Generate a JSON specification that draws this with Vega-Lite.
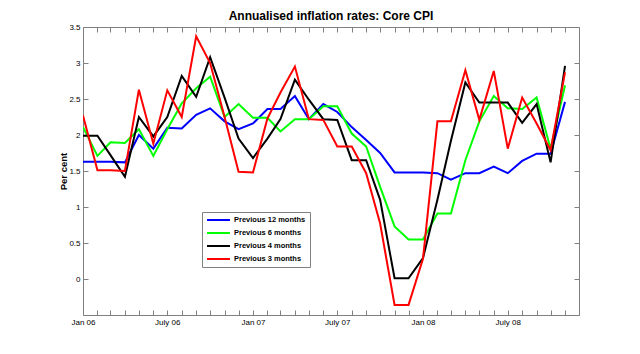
{
  "$schema": "https://vega.github.io/schema/vega-lite/v6.json",
  "width": 496,
  "height": 288,
  "autosize": {"type": "none"},
  "padding": {"left": 83, "top": 27, "right": 61, "bottom": 39},
  "background": "white",
  "config": {
    "font": "Liberation Sans",
    "view": {"stroke": "#808080", "strokeWidth": 1},
    "axis": {"grid": false, "domain": false, "tickColor": "#808080", "labelColor": "black", "titleColor": "black"}
  },
  "title": {"text": "Annualised inflation rates: Core CPI", "fontSize": 12, "fontWeight": "bold", "font": "Liberation Sans", "anchor": "middle", "offset": 0, "color": "black"},
  "data": {
    "values": [
      {"date": "2006-01-01", "Previous 12 months": 1.63, "Previous 6 months": 2.11, "Previous 4 months": 1.99, "Previous 3 months": 2.27},
      {"date": "2006-02-01", "Previous 12 months": 1.63, "Previous 6 months": 1.71, "Previous 4 months": 1.99, "Previous 3 months": 1.51},
      {"date": "2006-03-01", "Previous 12 months": 1.63, "Previous 6 months": 1.90, "Previous 4 months": 1.72, "Previous 3 months": 1.51},
      {"date": "2006-04-01", "Previous 12 months": 1.62, "Previous 6 months": 1.89, "Previous 4 months": 1.42, "Previous 3 months": 1.50},
      {"date": "2006-05-01", "Previous 12 months": 2.00, "Previous 6 months": 2.08, "Previous 4 months": 2.25, "Previous 3 months": 2.63},
      {"date": "2006-06-01", "Previous 12 months": 1.81, "Previous 6 months": 1.71, "Previous 4 months": 1.98, "Previous 3 months": 1.88},
      {"date": "2006-07-01", "Previous 12 months": 2.10, "Previous 6 months": 2.08, "Previous 4 months": 2.25, "Previous 3 months": 2.62},
      {"date": "2006-08-01", "Previous 12 months": 2.09, "Previous 6 months": 2.44, "Previous 4 months": 2.82, "Previous 3 months": 2.25},
      {"date": "2006-09-01", "Previous 12 months": 2.28, "Previous 6 months": 2.65, "Previous 4 months": 2.53, "Previous 3 months": 3.37},
      {"date": "2006-10-01", "Previous 12 months": 2.37, "Previous 6 months": 2.81, "Previous 4 months": 3.08, "Previous 3 months": 3.00},
      {"date": "2006-11-01", "Previous 12 months": 2.19, "Previous 6 months": 2.25, "Previous 4 months": 2.52, "Previous 3 months": 2.25},
      {"date": "2006-12-01", "Previous 12 months": 2.08, "Previous 6 months": 2.43, "Previous 4 months": 1.95, "Previous 3 months": 1.49},
      {"date": "2007-01-01", "Previous 12 months": 2.16, "Previous 6 months": 2.24, "Previous 4 months": 1.68, "Previous 3 months": 1.48},
      {"date": "2007-02-01", "Previous 12 months": 2.36, "Previous 6 months": 2.24, "Previous 4 months": 1.95, "Previous 3 months": 2.23},
      {"date": "2007-03-01", "Previous 12 months": 2.36, "Previous 6 months": 2.05, "Previous 4 months": 2.22, "Previous 3 months": 2.59},
      {"date": "2007-04-01", "Previous 12 months": 2.54, "Previous 6 months": 2.22, "Previous 4 months": 2.77, "Previous 3 months": 2.95},
      {"date": "2007-05-01", "Previous 12 months": 2.22, "Previous 6 months": 2.22, "Previous 4 months": 2.49, "Previous 3 months": 2.22},
      {"date": "2007-06-01", "Previous 12 months": 2.43, "Previous 6 months": 2.40, "Previous 4 months": 2.22, "Previous 3 months": 2.21},
      {"date": "2007-07-01", "Previous 12 months": 2.32, "Previous 6 months": 2.40, "Previous 4 months": 2.21, "Previous 3 months": 1.84},
      {"date": "2007-08-01", "Previous 12 months": 2.11, "Previous 6 months": 2.02, "Previous 4 months": 1.65, "Previous 3 months": 1.84},
      {"date": "2007-09-01", "Previous 12 months": 1.93, "Previous 6 months": 1.84, "Previous 4 months": 1.65, "Previous 3 months": 1.47},
      {"date": "2007-10-01", "Previous 12 months": 1.75, "Previous 6 months": 1.28, "Previous 4 months": 1.10, "Previous 3 months": 0.77},
      {"date": "2007-11-01", "Previous 12 months": 1.48, "Previous 6 months": 0.73, "Previous 4 months": 0.01, "Previous 3 months": -0.36},
      {"date": "2007-12-01", "Previous 12 months": 1.48, "Previous 6 months": 0.55, "Previous 4 months": 0.01, "Previous 3 months": -0.36},
      {"date": "2008-01-01", "Previous 12 months": 1.48, "Previous 6 months": 0.55, "Previous 4 months": 0.29, "Previous 3 months": 0.28},
      {"date": "2008-02-01", "Previous 12 months": 1.47, "Previous 6 months": 0.91, "Previous 4 months": 1.10, "Previous 3 months": 2.19},
      {"date": "2008-03-01", "Previous 12 months": 1.38, "Previous 6 months": 0.91, "Previous 4 months": 1.92, "Previous 3 months": 2.19},
      {"date": "2008-04-01", "Previous 12 months": 1.47, "Previous 6 months": 1.65, "Previous 4 months": 2.73, "Previous 3 months": 2.90},
      {"date": "2008-05-01", "Previous 12 months": 1.47, "Previous 6 months": 2.19, "Previous 4 months": 2.45, "Previous 3 months": 2.21},
      {"date": "2008-06-01", "Previous 12 months": 1.56, "Previous 6 months": 2.54, "Previous 4 months": 2.45, "Previous 3 months": 2.89},
      {"date": "2008-07-01", "Previous 12 months": 1.47, "Previous 6 months": 2.37, "Previous 4 months": 2.45, "Previous 3 months": 1.81},
      {"date": "2008-08-01", "Previous 12 months": 1.64, "Previous 6 months": 2.36, "Previous 4 months": 2.17, "Previous 3 months": 2.52},
      {"date": "2008-09-01", "Previous 12 months": 1.74, "Previous 6 months": 2.52, "Previous 4 months": 2.43, "Previous 3 months": 2.16},
      {"date": "2008-10-01", "Previous 12 months": 1.74, "Previous 6 months": 1.81, "Previous 4 months": 1.62, "Previous 3 months": 1.79},
      {"date": "2008-11-01", "Previous 12 months": 2.46, "Previous 6 months": 2.69, "Previous 4 months": 2.96, "Previous 3 months": 2.87}
    ]
  },
  "transform": [
    {"fold": ["Previous 12 months", "Previous 6 months", "Previous 4 months", "Previous 3 months"], "as": ["series", "value"]}
  ],
  "layer": [
    {
      "mark": {"type": "line", "strokeWidth": 2, "clip": true},
      "encoding": {
        "x": {
          "field": "date", "type": "temporal",
          "scale": {"type": "utc", "domain": [{"year": 2006, "month": 1, "date": 1, "utc": true}, {"year": 2008, "month": 12, "date": 1, "utc": true}], "nice": false},
          "axis": {
            "title": null, "orient": "bottom",
            "tickCount": {"interval": "month", "step": 1},
            "tickSize": -5, "labelPadding": 8, "labelFlush": false, "labelOverlap": false,
            "labelFontSize": 8, "labelFont": "Liberation Sans",
            "labelExpr": "utcFormat(datum.value, '%m') == '01' ? 'Jan ' + utcFormat(datum.value, '%y') : (utcFormat(datum.value, '%m') == '07' ? 'July ' + utcFormat(datum.value, '%y') : '')"
          }
        },
        "y": {
          "field": "value", "type": "quantitative",
          "scale": {"domain": [-0.5, 3.5], "nice": false, "zero": false},
          "axis": {
            "title": "Per cent", "orient": "left",
            "values": [0, 0.5, 1, 1.5, 2, 2.5, 3, 3.5], "format": "~g",
            "tickSize": -5, "labelPadding": 8, "labelFontSize": 8, "labelFont": "Liberation Sans",
            "titleFontSize": 9.5, "titleFontWeight": "bold", "titleFont": "Liberation Sans", "titlePadding": 0
          }
        },
        "color": {
          "field": "series", "type": "nominal",
          "scale": {"domain": ["Previous 12 months", "Previous 6 months", "Previous 4 months", "Previous 3 months"], "range": ["#0000ff", "#00ff00", "#000000", "#ff0000"]},
          "legend": {
            "title": null, "orient": "none", "legendX": 119, "legendY": 185, "direction": "vertical",
            "symbolType": "stroke", "symbolSize": 529, "symbolStrokeWidth": 2, "clipHeight": 8,
            "labelOffset": 3, "labelFontSize": 7.5, "labelFontWeight": "bold", "labelColor": "black", "labelFont": "Liberation Sans",
            "padding": 4, "rowPadding": 5, "strokeColor": "#808080", "fillColor": "white",
            "labelExpr": "datum.label + '\u00a0\u00a0\u00a0\u00a0\u00a0\u00a0\u00a0'"
          }
        }
      }
    },
    {
      "mark": {"type": "point", "opacity": 0},
      "encoding": {
        "x": {
          "field": "date", "type": "temporal",
          "axis": {"title": null, "orient": "top", "labels": false, "tickCount": {"interval": "month", "step": 1}, "tickSize": -5}
        },
        "y": {
          "field": "value", "type": "quantitative",
          "axis": {"title": null, "orient": "right", "labels": false, "values": [0, 0.5, 1, 1.5, 2, 2.5, 3], "tickSize": -5}
        }
      }
    }
  ]
}
